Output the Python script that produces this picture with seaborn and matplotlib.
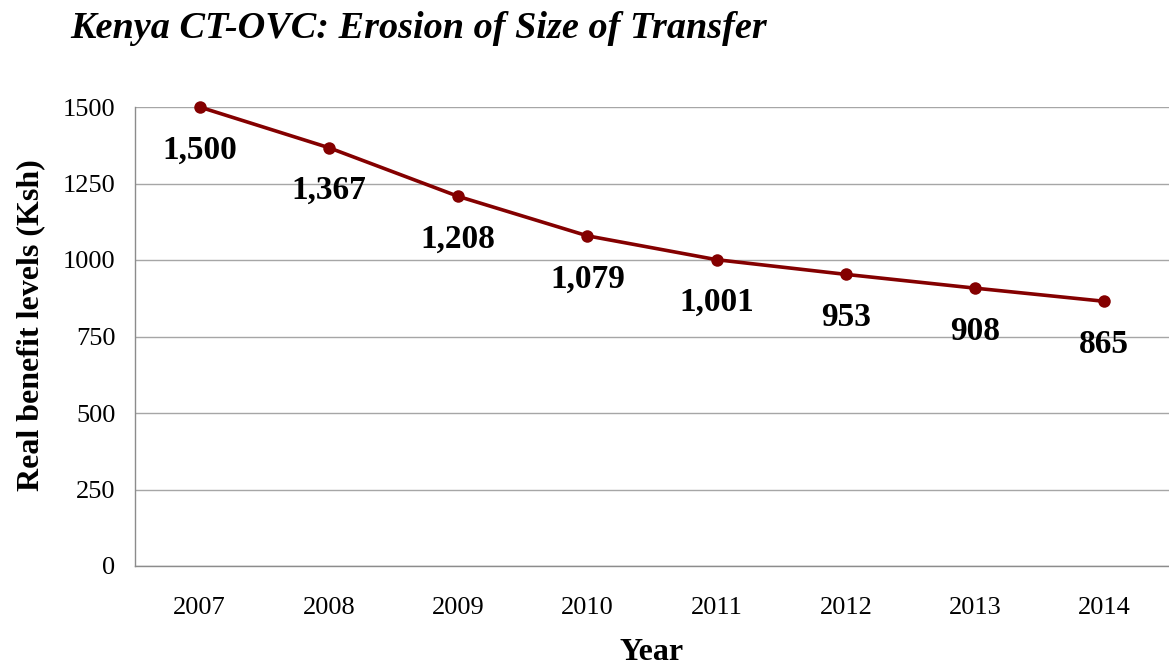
import matplotlib
matplotlib.use("Agg")
import matplotlib.pyplot as plt
import seaborn as sns
import pandas as pd
import numpy as np

years = ["2007", "2008", "2009", "2010", "2011", "2012", "2013", "2014"]
values = [1500, 1367, 1208, 1079, 1001, 953, 908, 865]
labels = ["1,500", "1,367", "1,208", "1,079", "1,001", "953", "908", "865"]
yticks = [0, 250, 500, 750, 1000, 1250, 1500]

sns.set_theme(style="white")
plt.rcParams['font.family'] = ['Liberation Serif', 'DejaVu Serif']
plt.rcParams['text.color'] = 'black'
plt.rcParams['axes.labelcolor'] = 'black'
plt.rcParams['xtick.color'] = 'black'
plt.rcParams['ytick.color'] = 'black'

fig = plt.figure(figsize=(11.69, 6.65), dpi=100)
ax = fig.add_axes([135/1169, 1-566/665, 1-135/1169, (566-107)/665])

df = pd.DataFrame({"Year": years, "Value": values})
sns.lineplot(data=df, x="Year", y="Value", sort=False, ax=ax, color="#840000",
             linewidth=2.6, marker="o", markersize=9, markeredgewidth=0, clip_on=False, zorder=5)

ax.set_xlim(-0.5, len(years) - 0.5)
ax.set_ylim(0, 1500)
ax.set_yticks(yticks)
ax.set_yticklabels([str(t) for t in yticks], fontsize=19)
ax.set_xticks(range(len(years)))
ax.set_xticklabels(years, fontsize=19)
ax.set_xticks(np.arange(-0.5, len(years)), minor=True)
ax.tick_params(axis="x", which="major", length=0, pad=22, labelcolor="black")
ax.tick_params(axis="x", which="minor", length=7, color="#8c8c8c", width=1)
ax.tick_params(axis="y", length=8, color="#8c8c8c", width=1, pad=6, labelcolor="black")
ax.grid(axis="y", color="#a6a6a6", linewidth=1)
ax.set_axisbelow(True)
for s in ["top", "right"]:
    ax.spines[s].set_visible(False)
for s in ["left", "bottom"]:
    ax.spines[s].set_color("#8c8c8c")
    ax.spines[s].set_linewidth(1)

for i, (v, lab) in enumerate(zip(values, labels)):
    ax.annotate(lab, (i, v), xytext=(0, -31), textcoords="offset points",
                ha="center", va="center", fontsize=24, fontweight="bold", color="black")

ax.set_xlabel("Year", fontsize=23, fontweight="bold", labelpad=14, color="black")
ax.set_ylabel("Real benefit levels (Ksh)", fontsize=23, fontweight="bold", color="black")
ax.yaxis.set_label_coords(-0.087, 0.525)

fig.text(70/1169, 1-29/665, "Kenya CT-OVC: Erosion of Size of Transfer", ha="left", va="center",
         fontsize=27.5, fontweight="bold", fontstyle="italic", color="black")

fig.savefig("out.png", dpi=100)
